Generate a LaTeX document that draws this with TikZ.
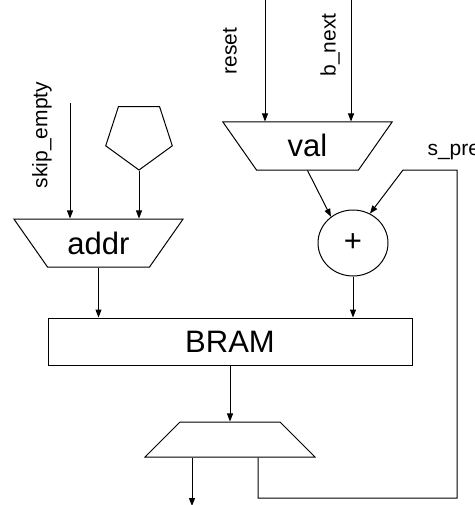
\documentclass[tikz,border=0pt]{standalone}
\usepackage{fontspec}
\setmainfont{Liberation Sans}
\usetikzlibrary{arrows.meta, positioning, shapes.geometric}

\begin{document}
\begin{tikzpicture}[
    x=1pt, y=-1pt,
    line width=1pt,
    >={Triangle[length=8pt, width=6pt]},
    block/.style={font=\fontsize{31}{34}\selectfont},
    sig/.style={font=\fontsize{21}{23}\selectfont, inner sep=0pt},
    mux/.style={trapezium, draw, inner sep=0pt, align=center},
    inmux/.style={mux, block, trapezium left angle=125, trapezium right angle=125,
        text width=102pt, text height=35pt, text depth=13pt},
    outmux/.style={mux, trapezium left angle=45, trapezium right angle=45,
        text width=100pt, text height=35pt, text depth=0pt},
    sum/.style={block, ellipse, draw, minimum width=70pt, minimum height=66pt, inner sep=0pt}
]
\useasboundingbox (0,0) rectangle (474,505);

% Blocks
\node[inmux] (addr) at (98.5,243) {addr};
\node[inmux] (val) at (307.5,146) {val};
\node[regular polygon, regular polygon sides=5, shape border rotate=180, draw, minimum size=70pt, inner sep=0pt] (pent) at (139,135) {};
\node[sum] (plus) at (353,243) {+};
\node[block, rectangle, draw, minimum width=364pt, minimum height=47pt] (bram) at (230,341.5) {BRAM};
\node[outmux] (out) at (230,439.5) {};

% Inputs
\coordinate (skip) at (70,103);
\coordinate (reset) at (265,0);
\coordinate (bnext) at (351,0);
\node[sig, rotate=90] (skiplbl) at (42,135) {skip\_empty};
\node[sig, rotate=90] (resetlbl) at (230,51) {reset};
\node[sig, rotate=90] (bnextlbl) at (330,45) {b\_next};
\node[sig, anchor=base west] (sprevlbl) at (427,156) {s\_prev};

% Loop points
\coordinate (loopbl) at (258,498);
\coordinate (looptr) at (457,170);
\coordinate (bend) at (403,170);
\coordinate (res) at (192,506);

% Arrows
\draw[->] (skip) -- (skip |- addr.north);
\draw[->] (pent) -- (pent |- addr.north);
\draw[->] (reset) -- (reset |- val.north);
\draw[->] (bnext) -- (bnext |- val.north);
\draw[->] (val.south) -- (plus.130);
\draw[->] (addr.south) -- (addr.south |- bram.north);
\draw[->] (plus) -- (plus |- bram.north);
\draw[->] (bram) -- (out);
\draw[->] (res |- out.south) -- (res);
\draw[->] (loopbl |- out.south) -- (loopbl) -| (looptr) -- (bend) -- (plus.60);

\end{tikzpicture}
\end{document}
